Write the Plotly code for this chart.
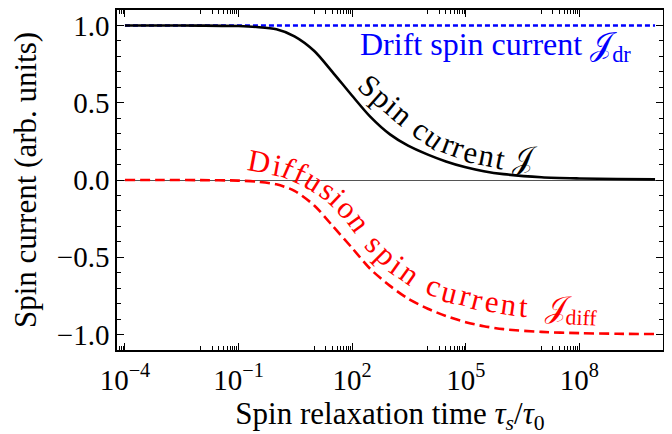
import math
import plotly.graph_objects as go

# ---- data ----
tau = [1e-4, 1e-3, 1e-2, 1e-1, 3e-1, 1, 3, 10, 30, 100, 300, 1e3, 3e3, 1e4,
       3e4, 1e5, 3e5, 1e6, 1e7, 1e8, 1e9, 1e10]
J_total = [1.000, 1.000, 0.999, 0.996, 0.990, 0.975, 0.930, 0.835, 0.700, 0.545,
           0.410, 0.295, 0.222, 0.164, 0.120, 0.082, 0.057, 0.038, 0.018, 0.010,
           0.006, 0.004]
J_diff = [0.000, 0.000, -0.001, -0.004, -0.011, -0.028, -0.070, -0.165, -0.295,
          -0.440, -0.575, -0.685, -0.768, -0.833, -0.880, -0.920, -0.946, -0.965,
          -0.983, -0.991, -0.995, -0.997]
tau_dr = [1e-4, 1e10]
J_dr = [1.0, 1.0]

x_major = [1e-4, 1e-1, 1e2, 1e5, 1e8]
x_major_text = ["10<sup>−4</sup>", "10<sup>−1</sup>", "10<sup>2</sup>",
                "10<sup>5</sup>", "10<sup>8</sup>"]
y_major = [-1.0, -0.5, 0.0, 0.5, 1.0]
y_major_text = ["−1.0", "−0.5", "0.0", "0.5", "1.0"]

FONT = "Liberation Serif"
W, H = 672, 434
OFF = 8  # page body margin
# plot area in page pixels
L, R, T, B = 117, 663, 10, 350

# minor ticks: as in the reference, only in the decade below each major tick
x_minor = []
for m in [-4, -1, 2, 5, 8]:
    for k in range(1, 10):
        v = k * 10.0 ** (m - 1)
        if 10 ** -4.2 <= v <= 10 ** 10.2:
            x_minor.append(v)

fig = go.Figure()
fig.add_trace(go.Scatter(x=tau_dr, y=J_dr, mode="lines",
                         line=dict(color="#0000ff", width=2.6, dash="5px,3px"),
                         showlegend=False))
fig.add_trace(go.Scatter(x=tau, y=J_diff, mode="lines",
                         line=dict(color="#ff0000", width=2.6, dash="10px,5px",
                                   shape="spline", smoothing=0.8),
                         showlegend=False))
fig.add_trace(go.Scatter(x=tau, y=J_total, mode="lines",
                         line=dict(color="black", width=2.6, shape="spline", smoothing=0.8),
                         showlegend=False))


def to_paper(xp, yp):
    return (xp - L) / (R - L), (B - yp) / (B - T)


def label(text, xp, yp, angle, color, size=31):
    xx, yy = to_paper(xp, yp)
    fig.add_annotation(x=xx, y=yy, xref="paper", yref="paper", text=text,
                       showarrow=False, textangle=angle,
                       font=dict(family=FONT, size=size, color=color),
                       xanchor="center", yanchor="middle")


# approximate advance widths (em) for Times-like glyphs
WID = {"S": .556, "p": .5, "i": .278, "n": .5, " ": .25, "c": .444, "u": .5,
       "r": .333, "e": .444, "t": .278, "D": .722, "f": .333, "s": .389, "o": .5}


def text_on_path(tokens, pts, color, size=31):
    """tokens: list of (text, width_em); pts: text path in page pixel coords."""
    seg = []
    total = 0.0
    for (x0, y0), (x1, y1) in zip(pts[:-1], pts[1:]):
        d = math.hypot(x1 - x0, y1 - y0)
        seg.append((x0, y0, x1, y1, d))
        total += d
    adv = sum(w for _, w in tokens)
    scale = total / adv
    s = 0.0
    for txt, w in tokens:
        c = (s + w / 2) * scale
        s += w
        if txt.strip() == "":
            continue
        acc = 0.0
        for x0, y0, x1, y1, d in seg:
            if acc + d >= c or (x1, y1) == pts[-1]:
                t = (c - acc) / d
                xp = x0 + t * (x1 - x0)
                yp = y0 + t * (y1 - y0)
                ang = math.degrees(math.atan2(y1 - y0, x1 - x0))
                break
            acc += d
        label(txt, xp, yp, ang, color, size)


SJ = "𝒥"
label("Drift spin current " + SJ + "<sub>dr</sub>", 495, 47, 0, "#0000ff", 32)

black_tokens = [(ch, WID[ch]) for ch in "Spin current "] + [(SJ, 0.7)]
black_path = [(362, 79), (388, 102), (412, 122), (438, 140), (470, 152),
              (505, 159), (537, 158)]
text_on_path(black_tokens, black_path, "black")

red_tokens = [(ch, WID[ch]) for ch in "Diffusion spin current "] + \
             [(SJ + "<sub>diff</sub>", 1.75)]
red_path = [(246, 159), (283, 166), (308, 177), (330, 191), (350, 210),
            (372, 240), (395, 263), (420, 281), (450, 292), (485, 301),
            (520, 306), (560, 309), (604, 311)]
text_on_path(red_tokens, red_path, "#ff0000")

fig.update_layout(
    width=W, height=H,
    margin=dict(l=L - OFF, r=W - (R - OFF), t=T - OFF, b=H - (B - OFF),
                autoexpand=False),
    paper_bgcolor="white", plot_bgcolor="white",
    font=dict(family=FONT, size=28, color="black"),
    xaxis=dict(
        type="log", range=[-4.21, 10.21], automargin=False,
        tickmode="array", tickvals=x_major, ticktext=x_major_text,
        ticks="inside", ticklen=7, tickwidth=1.2, tickcolor="black",
        showline=True, linecolor="black", linewidth=1.5, mirror="allticks",
        showgrid=False, zeroline=False, ticklabelstandoff=3,
        tickfont=dict(family=FONT, size=29),
        minor=dict(tickmode="array", tickvals=x_minor, ticks="inside",
                   ticklen=4, tickwidth=1, tickcolor="black", showgrid=False),
        title=dict(text="Spin relaxation time <i>τ<sub>s</sub></i>/<i>τ</i><sub>0</sub>",
                   font=dict(family=FONT, size=31), standoff=4),
    ),
    yaxis=dict(
        range=[-1.1, 1.1], automargin=False,
        tickmode="array", tickvals=y_major, ticktext=y_major_text,
        ticks="inside", ticklen=7, tickwidth=1.2, tickcolor="black",
        showline=True, linecolor="black", linewidth=1.5, mirror="allticks",
        showgrid=False,
        zeroline=True, zerolinecolor="#555555", zerolinewidth=1,
        tickfont=dict(family=FONT, size=29),
        minor=dict(dtick=0.1, tick0=0, ticks="inside", ticklen=4, tickwidth=1,
                   tickcolor="black", showgrid=False),
        title=dict(text="Spin current (arb. units)",
                   font=dict(family=FONT, size=31), standoff=14),
    ),
)

fig.write_html("out.html")
